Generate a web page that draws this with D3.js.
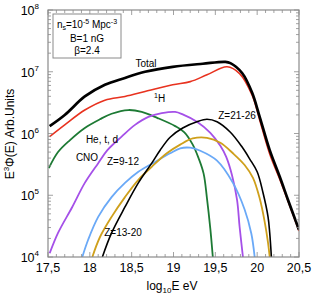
<!DOCTYPE html>
<html>
<head>
<meta charset="utf-8">
<script src="https://cdn.jsdelivr.net/npm/d3@7"></script>
<style>
body{margin:0;background:#fff;}
text{font-family:"Liberation Sans",Arial,sans-serif;}
</style>
</head>
<body>
<svg id="chart" width="312" height="294"></svg>
<script>
// log10 energy / log10 E^3 flux
var totalPts=[[17.52,6.12],[17.70,6.30],[17.94,6.60],[18.18,6.79],[18.42,6.90],[18.66,7.00],[18.99,7.08],[19.35,7.13],[19.62,7.16],[19.68,7.14],[19.82,6.98],[19.94,6.66],[20.03,6.27],[20.15,5.73],[20.27,5.30],[20.37,4.92],[20.50,4.44]];
var hPts=[[17.52,5.95],[17.70,6.14],[17.94,6.38],[18.18,6.54],[18.42,6.60],[18.66,6.68],[18.99,6.79],[19.20,6.84],[19.40,6.95],[19.64,7.08],[19.79,6.97],[19.94,6.62],[20.03,6.22],[20.15,5.67],[20.27,5.26],[20.37,4.90],[20.50,4.42]];
var hePts=[[17.51,5.44],[17.62,5.70],[17.76,5.89],[17.94,6.09],[18.12,6.23],[18.26,6.32],[18.46,6.38],[18.62,6.35],[18.81,6.25],[19.02,6.12],[19.13,6.02],[19.23,5.82],[19.30,5.60],[19.36,5.35],[19.40,4.95],[19.44,4.46],[19.47,4.00]];
var cnoPts=[[17.52,4.06],[17.62,4.39],[17.79,4.81],[17.94,5.20],[18.10,5.52],[18.21,5.73],[18.38,5.95],[18.54,6.14],[18.70,6.27],[18.86,6.33],[19.02,6.35],[19.11,6.31],[19.28,6.19],[19.44,6.01],[19.56,5.80],[19.63,5.62],[19.70,5.32],[19.76,4.92],[19.79,4.49],[19.83,4.00]];
var z912Pts=[[17.91,4.00],[17.98,4.28],[18.10,4.65],[18.26,4.97],[18.42,5.20],[18.58,5.38],[18.78,5.54],[18.96,5.68],[19.08,5.76],[19.20,5.77],[19.32,5.72],[19.52,5.56],[19.71,5.20],[19.85,4.77],[19.93,4.38],[19.97,4.00]];
var z1320Pts=[[18.03,4.00],[18.12,4.32],[18.26,4.65],[18.42,4.97],[18.58,5.25],[18.74,5.46],[18.92,5.68],[19.08,5.82],[19.23,5.92],[19.40,5.93],[19.56,5.85],[19.71,5.68],[19.85,5.49],[19.95,5.28],[20.03,4.95],[20.09,4.57],[20.13,4.23],[20.15,4.00]];
var z2126Pts=[[18.15,4.00],[18.26,4.39],[18.42,4.81],[18.58,5.20],[18.74,5.52],[18.84,5.73],[18.96,5.94],[19.11,6.09],[19.28,6.19],[19.40,6.23],[19.52,6.19],[19.68,6.02],[19.82,5.78],[19.91,5.59],[20.00,5.38],[20.07,5.04],[20.13,4.65],[20.15,4.39],[20.17,4.00]];

var xTicks=[17.5,18,18.5,19,19.5,20,20.5];
var xTickLabels=["17,5","18","18,5","19","19,5","20","20,5"];
var yExps=[4,5,6,7,8];

var series=[
  {name:"He, t, d",pts:hePts,color:"#1d7a34",w:1.8},
  {name:"CNO",pts:cnoPts,color:"#a550e8",w:1.8},
  {name:"Z=9-12",pts:z912Pts,color:"#6aa9f7",w:1.8},
  {name:"Z=13-20",pts:z1320Pts,color:"#cfa01c",w:1.8},
  {name:"Z=21-26",pts:z2126Pts,color:"#000",w:1.6},
  {name:"1H",pts:hPts,color:"#e8321f",w:1.6},
  {name:"Total",pts:totalPts,color:"#000",w:2.7}
];

var svg=d3.select("#chart");
var L=48,R=299,T=10,B=257;
var x=d3.scaleLinear().domain([17.5,20.5]).range([L,R]);
var y=d3.scaleLog().domain([1e4,1e8]).range([B,T]);

svg.append("clipPath").attr("id","clip").append("rect")
  .attr("x",L).attr("y",T).attr("width",R-L).attr("height",B-T);

var line=d3.line()
  .x(function(d){return x(d[0]);})
  .y(function(d){return y(Math.pow(10,d[1]));})
  .curve(d3.curveCatmullRom.alpha(0.5));

var g=svg.append("g").attr("clip-path","url(#clip)");
series.forEach(function(s){
  g.append("path").datum(s.pts)
    .attr("d",line)
    .attr("fill","none")
    .attr("stroke",s.color)
    .attr("stroke-width",s.w)
    .attr("stroke-linejoin","round");
});

// frame with inward ticks on all sides
var frame="#8a8a8a";
svg.append("rect").attr("x",L).attr("y",T).attr("width",R-L).attr("height",B-T)
  .attr("fill","none").attr("stroke",frame).attr("stroke-width",1.2);

var ax=svg.append("g").attr("stroke",frame).attr("stroke-width",0.8);
d3.range(175,206,1).forEach(function(i){
  var v=i/10, major=(i%5===0), len=major?5:3;
  ax.append("line").attr("x1",x(v)).attr("x2",x(v)).attr("y1",B).attr("y2",B-len);
  ax.append("line").attr("x1",x(v)).attr("x2",x(v)).attr("y1",T).attr("y2",T+len);
});
yExps.forEach(function(e){
  for(var m=1;m<=9;m++){
    if(e===8&&m>1) break;
    var v=m*Math.pow(10,e), len=(m===1)?5:3;
    ax.append("line").attr("x1",L).attr("x2",L+len).attr("y1",y(v)).attr("y2",y(v));
    ax.append("line").attr("x1",R).attr("x2",R-len).attr("y1",y(v)).attr("y2",y(v));
  }
});

// tick labels
svg.selectAll(".xl").data(xTicks).enter().append("text")
  .attr("x",function(d){return x(d);}).attr("y",272)
  .attr("text-anchor","middle").attr("font-size",12.5)
  .text(function(d,i){return xTickLabels[i];});

yExps.forEach(function(e){
  var t=svg.append("text").attr("x",39).attr("y",y(Math.pow(10,e))+5)
    .attr("text-anchor","end").attr("font-size",12.5);
  t.append("tspan").text("10");
  t.append("tspan").attr("dy",-6).attr("font-size",8).text(e);
});

// axis titles
var xt=svg.append("text").attr("x",172).attr("y",290).attr("text-anchor","middle").attr("font-size",12);
xt.append("tspan").text("log");
xt.append("tspan").attr("dy",3).attr("font-size",8).text("10");
xt.append("tspan").attr("dy",-3).text("E eV");

var yt=svg.append("text").attr("transform","translate(14,134) rotate(-90)")
  .attr("text-anchor","middle").attr("font-size",12);
yt.append("tspan").text("E");
yt.append("tspan").attr("dy",-5).attr("font-size",8).text("3");
yt.append("tspan").attr("dy",5).text("Φ(E) Arb.Units");

// parameter box
svg.append("rect").attr("x",53).attr("y",14).attr("width",68).attr("height",44)
  .attr("fill","#fff").attr("stroke",frame).attr("stroke-width",1);
var t1=svg.append("text").attr("x",87).attr("y",28).attr("text-anchor","middle").attr("font-size",10);
t1.append("tspan").text("n");
t1.append("tspan").attr("dy",2).attr("font-size",7).text("s");
t1.append("tspan").attr("dy",-2).text("=10");
t1.append("tspan").attr("dy",-4).attr("font-size",7).text("-5");
t1.append("tspan").attr("dy",4).text(" Mpc");
t1.append("tspan").attr("dy",-4).attr("font-size",7).text("-3");
svg.append("text").attr("x",87).attr("y",42).attr("text-anchor","middle").attr("font-size",10).text("B=1 nG");
svg.append("text").attr("x",87).attr("y",54).attr("text-anchor","middle").attr("font-size",10).text("β=2.4");

// curve labels
var labs=[
  {t:"Total",x:146,y:67},
  {t:"He, t, d",x:102,y:143},
  {t:"CNO",x:87,y:161},
  {t:"Z=9-12",x:123,y:165},
  {t:"Z=13-20",x:123,y:236},
  {t:"Z=21-26",x:237,y:119}
];
labs.forEach(function(l){
  svg.append("text").attr("x",l.x).attr("y",l.y).attr("text-anchor","middle").attr("font-size",10).text(l.t);
});
var hl=svg.append("text").attr("x",154).attr("y",102).attr("font-size",10);
hl.append("tspan").attr("dy",-4).attr("font-size",7).text("1");
hl.append("tspan").attr("dy",4).text("H");
</script>
</body>
</html>
